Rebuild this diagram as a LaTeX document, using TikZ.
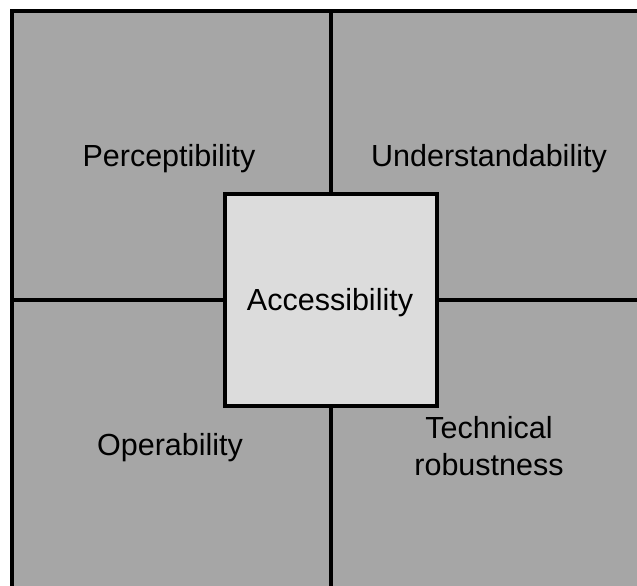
\documentclass[tikz,border=0pt]{standalone}
\usepackage{fontspec}
\setmainfont{Liberation Sans}
\definecolor{quad}{HTML}{A6A6A6}
\definecolor{core}{HTML}{DCDCDC}
\begin{document}
\begin{tikzpicture}[x=1pt,y=-1pt,
  lbl/.style={font=\fontsize{30.5}{37}\selectfont, inner sep=0pt, text=black},
  line/.style={line width=3.5pt}]
\useasboundingbox (0,0) rectangle (637,586);
\clip (0,0) rectangle (637,586);
\fill[white] (0,0) rectangle (637,586);
\coordinate (tl) at (12,11);
\coordinate (br) at (660,610);
\filldraw[fill=quad, line width=4pt] (tl) rectangle (br);
\node[draw, line width=3.5pt, fill=core, minimum width=212pt, minimum height=212pt, inner sep=0pt] (acc) at (331,300) {};
\node[lbl, anchor=base] (acct) at (330,310) {Accessibility};
\draw[line] (acc.north) -- (acc.north |- tl);
\draw[line] (acc.south) -- (acc.south |- br);
\draw[line] (acc.west) -- (acc.west -| tl);
\draw[line] (acc.east) -- (acc.east -| br);
\node[lbl, anchor=base] (per) at (169,166) {Perceptibility};
\node[lbl, anchor=base] (und) at (489,166) {Understandability};
\node[lbl, anchor=base] (ope) at (170,455) {Operability};
\node[lbl, align=center] (tec) at (489,446) {Technical\\robustness};
\end{tikzpicture}
\end{document}
